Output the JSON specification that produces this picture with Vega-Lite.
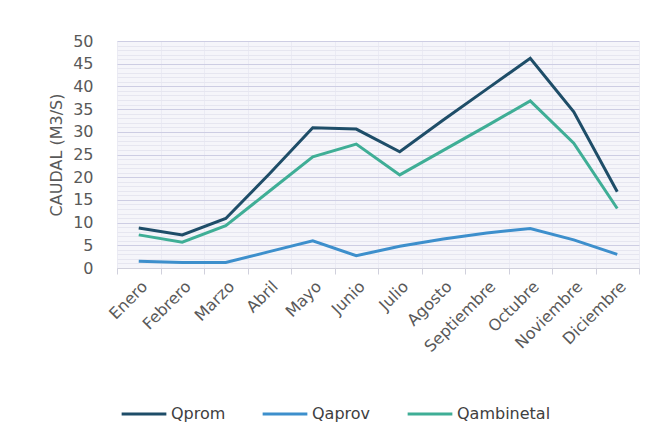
{
  "$schema": "https://vega.github.io/schema/vega-lite/v6.json",
  "autosize": {"type": "none"},
  "width": 522,
  "height": 227,
  "padding": {"left": 117, "top": 41, "right": 17, "bottom": 176},
  "background": "#ffffff",
  "config": {
    "font": "DejaVu Sans",
    "view": {"fill": "#f5f5fa", "stroke": null}
  },
  "data": {
    "values": [
      {"month": "Enero", "series": "Qprom", "value": 8.8},
      {"month": "Febrero", "series": "Qprom", "value": 7.3},
      {"month": "Marzo", "series": "Qprom", "value": 10.9},
      {"month": "Abril", "series": "Qprom", "value": 20.7},
      {"month": "Mayo", "series": "Qprom", "value": 30.9},
      {"month": "Junio", "series": "Qprom", "value": 30.6},
      {"month": "Julio", "series": "Qprom", "value": 25.6},
      {"month": "Agosto", "series": "Qprom", "value": 32.6},
      {"month": "Septiembre", "series": "Qprom", "value": 39.4},
      {"month": "Octubre", "series": "Qprom", "value": 46.2},
      {"month": "Noviembre", "series": "Qprom", "value": 34.4},
      {"month": "Diciembre", "series": "Qprom", "value": 16.8},
      {"month": "Enero", "series": "Qaprov", "value": 1.5},
      {"month": "Febrero", "series": "Qaprov", "value": 1.2},
      {"month": "Marzo", "series": "Qaprov", "value": 1.2},
      {"month": "Abril", "series": "Qaprov", "value": 3.6},
      {"month": "Mayo", "series": "Qaprov", "value": 6.0},
      {"month": "Junio", "series": "Qaprov", "value": 2.7},
      {"month": "Julio", "series": "Qaprov", "value": 4.8},
      {"month": "Agosto", "series": "Qaprov", "value": 6.4},
      {"month": "Septiembre", "series": "Qaprov", "value": 7.7},
      {"month": "Octubre", "series": "Qaprov", "value": 8.7},
      {"month": "Noviembre", "series": "Qaprov", "value": 6.2},
      {"month": "Diciembre", "series": "Qaprov", "value": 3.0},
      {"month": "Enero", "series": "Qambinetal", "value": 7.3},
      {"month": "Febrero", "series": "Qambinetal", "value": 5.7},
      {"month": "Marzo", "series": "Qambinetal", "value": 9.3},
      {"month": "Abril", "series": "Qambinetal", "value": 16.9},
      {"month": "Mayo", "series": "Qambinetal", "value": 24.5},
      {"month": "Junio", "series": "Qambinetal", "value": 27.3},
      {"month": "Julio", "series": "Qambinetal", "value": 20.5},
      {"month": "Agosto", "series": "Qambinetal", "value": 25.9},
      {"month": "Septiembre", "series": "Qambinetal", "value": 31.3},
      {"month": "Octubre", "series": "Qambinetal", "value": 36.8},
      {"month": "Noviembre", "series": "Qambinetal", "value": 27.5},
      {"month": "Diciembre", "series": "Qambinetal", "value": 13.1}
    ]
  },
  "mark": {"type": "line", "strokeWidth": 3, "strokeJoin": "miter"},
  "encoding": {
    "x": {
      "field": "month",
      "type": "nominal",
      "sort": null,
      "bandPosition": 0.5,
      "scale": {"type": "band", "paddingInner": 0, "paddingOuter": 0},
      "axis": {
        "title": null,
        "tickBand": "extent",
        "labelAngle": -45,
        "labelFontSize": 16,
        "labelColor": "#595959",
        "labelPadding": 4,
        "domainColor": "#d0d0dc",
        "tickColor": "#d0d0dc",
        "tickSize": 6,
        "grid": true,
        "gridColor": "#ebebf4",
        "gridWidth": 1
      }
    },
    "y": {
      "field": "value",
      "type": "quantitative",
      "scale": {"domain": [0, 50], "nice": false},
      "axis": {
        "title": "CAUDAL (M3/S)",
        "titleFont": "DejaVu Sans",
        "titleFontSize": 16,
        "titleFontWeight": "normal",
        "titleColor": "#595959",
        "titlePadding": 8,
        "values": [0,1,2,3,4,5,6,7,8,9,10,11,12,13,14,15,16,17,18,19,20,21,22,23,24,25,26,27,28,29,30,31,32,33,34,35,36,37,38,39,40,41,42,43,44,45,46,47,48,49,50],
        "labelExpr": "datum.value % 5 === 0 ? datum.label : ''",
        "labelFontSize": 16,
        "labelColor": "#595959",
        "labelPadding": 24,
        "ticks": false,
        "domain": false,
        "grid": true,
        "gridColor": {"condition": {"test": "datum.value % 5 === 0", "value": "#cdcde3"}, "value": "#e6e6f0"},
        "gridWidth": 1
      }
    },
    "color": {
      "field": "series",
      "type": "nominal",
      "scale": {"domain": ["Qprom", "Qaprov", "Qambinetal"], "range": ["#1e4d68", "#3d8fcc", "#3fae96"]},
      "legend": {
        "title": null,
        "orient": "none",
        "direction": "horizontal",
        "legendX": 3,
        "legendY": 349,
        "symbolType": "stroke",
        "symbolSize": 2000,
        "symbolStrokeWidth": 3,
        "labelFontSize": 16,
        "labelColor": "#404040",
        "labelOffset": 3,
        "columnPadding": 30
      }
    }
  }
}
